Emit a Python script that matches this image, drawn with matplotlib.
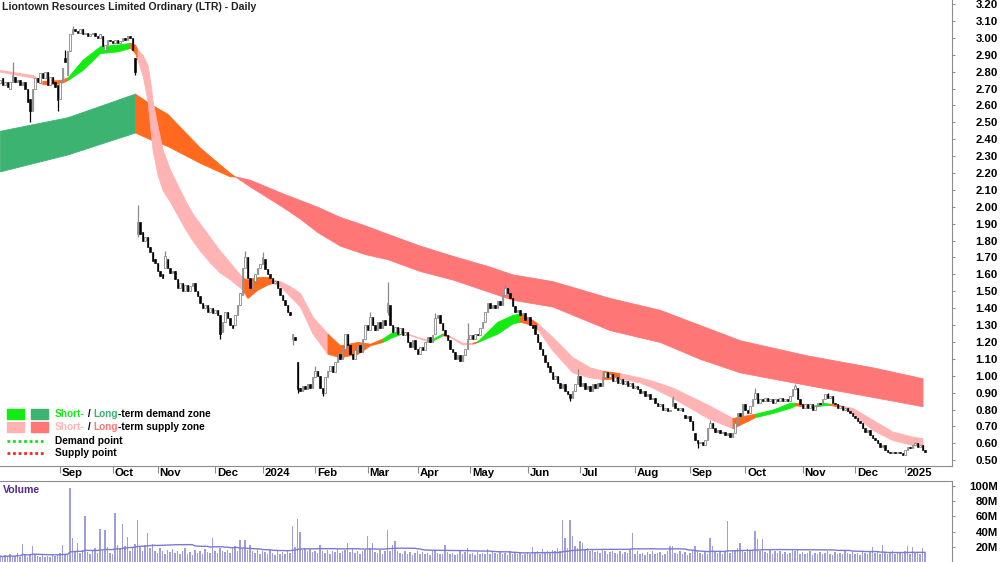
import numpy as np
import pandas as pd
import matplotlib
matplotlib.use("Agg")
import matplotlib.pyplot as plt
from matplotlib.patches import Rectangle
from matplotlib.lines import Line2D
from matplotlib.transforms import ScaledTranslation

plt.rcParams['font.family'] = ['Liberation Sans', 'DejaVu Sans']

# ---- daily candles (bar index 0 = late Jul 2023) ----
opens = [
    2.73, 2.76, 2.72, 2.74, 2.70, 2.74, 2.77, 2.74, 2.75, 2.72,
    2.74, 2.70, 2.64, 2.57, 2.70, 2.76, 2.73, 2.79, 2.76, 2.80,
    2.72, 2.77, 2.74, 2.72, 2.64, 2.74, 2.88, 2.78, 2.92, 3.02,
    3.05, 3.04, 3.03, 3.05, 3.02, 3.03, 3.01, 3.02, 3.03, 3.01,
    3.00, 3.01, 2.93, 2.96, 2.99, 2.98, 2.97, 2.99, 2.97, 2.98,
    3.00, 2.99, 3.01, 3.00, 2.88, 1.84, 1.91, 1.85, 1.80, 1.82,
    1.76, 1.73, 1.69, 1.67, 1.62, 1.60, 1.64, 1.69, 1.64, 1.61,
    1.62, 1.57, 1.52, 1.55, 1.50, 1.54, 1.50, 1.53, 1.55, 1.50,
    1.47, 1.43, 1.40, 1.42, 1.38, 1.40, 1.37, 1.39, 1.36, 1.26,
    1.32, 1.38, 1.34, 1.30, 1.30, 1.36, 1.42, 1.48, 1.64, 1.70,
    1.58, 1.52, 1.56, 1.60, 1.64, 1.66, 1.69, 1.63, 1.60, 1.58,
    1.55, 1.56, 1.52, 1.48, 1.45, 1.42, 1.38, 1.22, 1.23, 1.08,
    0.93, 0.91, 0.94, 0.92, 0.95, 0.93, 0.99, 1.03, 1.00, 0.93,
    0.90, 0.99, 1.03, 1.06, 1.02, 1.08, 1.13, 1.10, 1.16, 1.25,
    1.18, 1.13, 1.10, 1.15, 1.18, 1.14, 1.22, 1.30, 1.27, 1.35,
    1.30, 1.27, 1.32, 1.28, 1.33, 1.38, 1.42, 1.30, 1.26, 1.29,
    1.25, 1.28, 1.24, 1.26, 1.20, 1.17, 1.21, 1.16, 1.13, 1.17,
    1.15, 1.20, 1.23, 1.20, 1.25, 1.34, 1.36, 1.31, 1.27, 1.24,
    1.21, 1.16, 1.14, 1.10, 1.12, 1.09, 1.12, 1.16, 1.22, 1.24,
    1.22, 1.25, 1.24, 1.28, 1.32, 1.38, 1.43, 1.40, 1.42, 1.40,
    1.44, 1.42, 1.48, 1.52, 1.49, 1.46, 1.41, 1.38, 1.39, 1.36,
    1.37, 1.33, 1.35, 1.30, 1.30, 1.25, 1.20, 1.16, 1.12, 1.08,
    1.06, 1.02, 0.98, 1.00, 0.96, 0.93, 0.95, 0.91, 0.89, 0.87,
    0.91, 0.95, 1.00, 0.94, 0.96, 0.92, 0.94, 0.91, 0.95, 0.93,
    0.96, 0.94, 0.99, 1.02, 0.99, 1.01, 0.97, 0.99, 0.96, 0.98,
    0.95, 0.97, 0.94, 0.96, 0.93, 0.94, 0.92, 0.90, 0.91, 0.88,
    0.89, 0.86, 0.87, 0.84, 0.82, 0.83, 0.80, 0.81, 0.79, 0.82,
    0.84, 0.81, 0.80, 0.81, 0.77, 0.75, 0.76, 0.73, 0.66, 0.62,
    0.60, 0.61, 0.59, 0.62, 0.69, 0.72, 0.69, 0.67, 0.68, 0.66,
    0.67, 0.65, 0.66, 0.64, 0.66, 0.72, 0.78, 0.76, 0.83, 0.80,
    0.78, 0.82, 0.86, 0.90, 0.84, 0.86, 0.85, 0.87, 0.85, 0.86,
    0.84, 0.86, 0.85, 0.87, 0.85, 0.86, 0.85, 0.88, 0.92, 0.93,
    0.86, 0.83, 0.81, 0.83, 0.81, 0.83, 0.80, 0.82, 0.84, 0.83,
    0.86, 0.89, 0.87, 0.88, 0.84, 0.83, 0.81, 0.82, 0.80, 0.81,
    0.79, 0.78, 0.76, 0.75, 0.73, 0.72, 0.69, 0.67, 0.68, 0.65,
    0.63, 0.62, 0.60, 0.58, 0.59, 0.56, 0.55, 0.54, 0.55, 0.54,
    0.55, 0.54, 0.53, 0.56, 0.58, 0.57, 0.59, 0.60, 0.58, 0.59,
    0.56,
]
closes = [
    2.75, 2.72, 2.74, 2.71, 2.74, 2.78, 2.74, 2.75, 2.72, 2.74,
    2.70, 2.62, 2.57, 2.70, 2.76, 2.74, 2.79, 2.76, 2.80, 2.72,
    2.77, 2.73, 2.71, 2.63, 2.74, 2.82, 2.86, 2.92, 3.02, 3.05,
    3.04, 3.03, 3.05, 3.02, 3.03, 3.01, 3.02, 3.03, 3.01, 3.00,
    3.02, 2.95, 2.96, 2.99, 2.98, 2.97, 2.99, 2.97, 2.98, 3.00,
    2.99, 3.01, 3.00, 2.93, 2.80, 1.91, 1.84, 1.80, 1.82, 1.76,
    1.73, 1.68, 1.67, 1.62, 1.59, 1.58, 1.71, 1.64, 1.61, 1.62,
    1.57, 1.52, 1.55, 1.50, 1.54, 1.50, 1.53, 1.55, 1.50, 1.47,
    1.43, 1.40, 1.42, 1.38, 1.40, 1.37, 1.39, 1.36, 1.25, 1.32,
    1.38, 1.34, 1.30, 1.28, 1.36, 1.42, 1.49, 1.64, 1.70, 1.58,
    1.52, 1.56, 1.60, 1.64, 1.66, 1.70, 1.63, 1.60, 1.58, 1.55,
    1.56, 1.52, 1.48, 1.45, 1.42, 1.38, 1.36, 1.25, 1.21, 0.92,
    0.91, 0.94, 0.92, 0.95, 0.93, 0.99, 1.03, 1.00, 0.93, 0.90,
    0.99, 1.03, 1.06, 1.02, 1.08, 1.13, 1.10, 1.16, 1.25, 1.18,
    1.13, 1.10, 1.15, 1.18, 1.14, 1.22, 1.30, 1.27, 1.35, 1.30,
    1.27, 1.32, 1.28, 1.33, 1.30, 1.43, 1.30, 1.26, 1.29, 1.25,
    1.28, 1.24, 1.26, 1.20, 1.17, 1.21, 1.16, 1.13, 1.17, 1.15,
    1.20, 1.23, 1.20, 1.24, 1.34, 1.36, 1.31, 1.27, 1.24, 1.21,
    1.16, 1.14, 1.10, 1.12, 1.09, 1.12, 1.16, 1.22, 1.24, 1.22,
    1.25, 1.24, 1.28, 1.32, 1.38, 1.43, 1.40, 1.42, 1.40, 1.44,
    1.42, 1.48, 1.52, 1.49, 1.46, 1.41, 1.38, 1.39, 1.36, 1.37,
    1.33, 1.35, 1.30, 1.28, 1.25, 1.20, 1.16, 1.12, 1.08, 1.05,
    1.02, 0.98, 1.00, 0.96, 0.93, 0.95, 0.91, 0.89, 0.87, 0.91,
    0.95, 1.00, 0.94, 0.96, 0.92, 0.94, 0.91, 0.95, 0.93, 0.96,
    0.94, 0.99, 1.02, 0.99, 1.01, 0.97, 0.99, 0.96, 0.98, 0.95,
    0.97, 0.94, 0.96, 0.93, 0.94, 0.92, 0.90, 0.91, 0.88, 0.89,
    0.86, 0.87, 0.84, 0.82, 0.83, 0.80, 0.81, 0.79, 0.80, 0.87,
    0.81, 0.80, 0.81, 0.79, 0.75, 0.76, 0.73, 0.68, 0.62, 0.60,
    0.61, 0.59, 0.62, 0.69, 0.72, 0.69, 0.67, 0.68, 0.66, 0.67,
    0.65, 0.66, 0.64, 0.66, 0.72, 0.78, 0.76, 0.83, 0.80, 0.78,
    0.82, 0.86, 0.90, 0.84, 0.86, 0.85, 0.87, 0.85, 0.86, 0.84,
    0.86, 0.85, 0.87, 0.85, 0.86, 0.85, 0.88, 0.92, 0.94, 0.86,
    0.83, 0.81, 0.83, 0.81, 0.83, 0.80, 0.82, 0.84, 0.83, 0.86,
    0.89, 0.87, 0.88, 0.84, 0.83, 0.81, 0.82, 0.80, 0.81, 0.79,
    0.78, 0.76, 0.75, 0.73, 0.72, 0.69, 0.67, 0.68, 0.65, 0.63,
    0.62, 0.60, 0.58, 0.59, 0.56, 0.55, 0.54, 0.55, 0.54, 0.55,
    0.54, 0.53, 0.56, 0.58, 0.57, 0.59, 0.60, 0.58, 0.59, 0.56,
    0.55,
]
# notable wicks (bar index, price)
wick_hi_idx = [5, 26, 29, 55, 66, 98, 105, 126, 148, 155, 174, 187, 202, 231, 269, 284, 302, 318, 331, 366]
wick_hi_val = [2.86, 2.93, 3.07, 2.01, 1.74, 1.74, 1.73, 1.06, 1.38, 1.555, 1.37, 1.31, 1.54, 1.04, 0.88, 0.74, 0.93, 0.95, 0.90, 0.61]
wick_lo_idx = [12, 23, 54, 55, 88, 117, 119, 129, 155, 228, 279]
wick_lo_val = [2.50, 2.57, 2.78, 1.82, 1.22, 1.18, 0.90, 0.88, 1.36, 0.85, 0.57]

volumes_m = [
    8, 6, 9, 7, 10, 6, 8, 12, 7, 24, 9, 7, 11, 21, 10, 8, 7, 9, 6, 8,
    7, 9, 8, 10, 12, 22, 11, 9, 98, 31, 14, 25, 12, 16, 60, 13, 11, 15, 18, 12,
    43, 14, 42, 20, 12, 11, 64, 22, 18, 50, 21, 33, 15, 18, 24, 55, 20, 14, 22, 38,
    18, 24, 15, 12, 19, 14, 11, 16, 13, 17, 12, 15, 10, 14, 18, 11, 13, 9, 16, 12,
    14, 11, 17, 13, 12, 31, 15, 12, 18, 14, 13, 16, 12, 19, 21, 15, 29, 18, 29, 16,
    22, 14, 12, 17, 11, 15, 13, 10, 16, 12, 9, 14, 11, 13, 10, 15, 12, 48, 20, 57,
    40, 16, 19, 14, 17, 13, 15, 12, 23, 14, 12, 16, 11, 15, 13, 18, 12, 14, 16, 25,
    13, 17, 12, 15, 11, 14, 16, 34, 18, 25, 13, 12, 16, 11, 14, 42, 15, 23, 27, 14,
    12, 10, 14, 11, 13, 9, 12, 15, 10, 13, 11, 12, 9, 14, 16, 12, 10, 11, 23, 13,
    10, 12, 9, 11, 14, 10, 13, 18, 11, 12, 9, 13, 10, 12, 11, 17, 10, 14, 12, 11,
    13, 10, 12, 9, 14, 11, 13, 10, 12, 9, 11, 13, 10, 20, 12, 14, 11, 17, 13, 15,
    12, 16, 14, 18, 15, 55, 31, 19, 55, 34, 21, 18, 28, 25, 16, 19, 14, 17, 13, 15,
    12, 16, 14, 11, 13, 15, 12, 10, 14, 11, 13, 12, 17, 38, 11, 14, 10, 12, 9, 13,
    11, 14, 10, 12, 13, 9, 11, 15, 21, 21, 12, 10, 14, 11, 13, 9, 12, 16, 21, 14,
    12, 10, 13, 11, 31, 21, 14, 12, 15, 11, 13, 54, 12, 16, 14, 18, 25, 15, 13, 17,
    14, 16, 41, 30, 15, 30, 13, 12, 16, 11, 14, 12, 15, 10, 13, 11, 12, 16, 14, 17,
    11, 13, 10, 12, 14, 9, 12, 11, 13, 10, 12, 14, 11, 9, 13, 10, 12, 11, 14, 12,
    10, 13, 11, 12, 9, 14, 12, 11, 13, 20, 12, 14, 11, 23, 13, 10, 12, 14, 11, 13,
    12, 10, 14, 21, 11, 20, 13, 12, 11, 19, 12,
]

# ---- long-term zone (bar index, top, bottom) ----
long_x = [0, 27, 54, 60, 67, 80, 92, 94, 100, 113, 120, 127, 136, 146, 155, 168, 181, 195, 205, 221, 244, 264, 280, 296, 323, 349, 369]
long_top = [2.45, 2.53, 2.67, 2.61, 2.55, 2.35, 2.20, 2.18, 2.16, 2.08, 2.04, 2.00, 1.94, 1.89, 1.84, 1.77, 1.71, 1.65, 1.60, 1.56, 1.46, 1.39, 1.30, 1.21, 1.12, 1.05, 0.985]
long_bot = [2.21, 2.31, 2.44, 2.40, 2.36, 2.26, 2.18, 2.18, 2.12, 2.00, 1.93, 1.85, 1.77, 1.72, 1.69, 1.62, 1.57, 1.50, 1.45, 1.41, 1.27, 1.20, 1.10, 1.02, 0.945, 0.875, 0.82]
long_state = "ggooooorrrrrrrrrrrrrrrrrrr"

# ---- short-term zone ----
short_x = [0, 13, 17, 24, 27, 33, 40, 47, 52, 54, 55, 57, 59, 60, 61, 63, 65, 68, 71, 74,
           77, 80, 84, 88, 92, 97, 99, 103, 107, 109, 112, 116, 120, 125, 131, 136, 143, 148, 153, 157,
           161, 163, 168, 172, 177, 180, 185, 189, 191, 199, 205, 208, 213, 215, 221, 229, 236, 241, 248, 256,
           261, 269, 283, 293, 300, 302, 309, 316, 318, 325, 329, 332, 337, 341, 349, 357, 365, 369]
short_top = [2.81, 2.78, 2.745, 2.75, 2.765, 2.87, 2.95, 2.96, 2.97, 2.96, 2.93, 2.90, 2.84, 2.75, 2.63, 2.48, 2.34, 2.22, 2.13, 2.04,
             1.96, 1.90, 1.82, 1.74, 1.67, 1.58, 1.57, 1.585, 1.585, 1.57, 1.56, 1.53, 1.49, 1.35, 1.25, 1.18, 1.20, 1.19, 1.22, 1.26,
             1.265, 1.25, 1.225, 1.21, 1.25, 1.235, 1.195, 1.195, 1.205, 1.32, 1.36, 1.37, 1.33, 1.31, 1.23, 1.11, 1.05, 1.03, 1.015, 0.99,
             0.97, 0.93, 0.83, 0.75, 0.77, 0.775, 0.80, 0.84, 0.84, 0.82, 0.84, 0.835, 0.822, 0.81, 0.74, 0.67, 0.64, 0.63]
short_bot = [2.80, 2.765, 2.725, 2.73, 2.75, 2.81, 2.91, 2.92, 2.94, 2.91, 2.87, 2.78, 2.63, 2.48, 2.34, 2.19, 2.10, 2.03, 1.95, 1.87,
             1.80, 1.74, 1.67, 1.61, 1.57, 1.51, 1.46, 1.51, 1.54, 1.55, 1.53, 1.47, 1.41, 1.25, 1.13, 1.11, 1.13, 1.18, 1.20, 1.23,
             1.25, 1.245, 1.22, 1.20, 1.24, 1.23, 1.185, 1.19, 1.20, 1.25, 1.31, 1.32, 1.30, 1.275, 1.15, 1.02, 0.99, 0.98, 0.985, 0.96,
             0.93, 0.87, 0.75, 0.69, 0.74, 0.755, 0.78, 0.81, 0.825, 0.815, 0.825, 0.828, 0.812, 0.78, 0.68, 0.62, 0.59, 0.58]
short_state = ("ppooggggoo" "ppppppppppppppp" "oooo" "ppppp" "oooo" "gg" "o" "pp" "g" "o" "pp" "o"
               "ggg" "oo" "pppp" "o" "ppppp" "oo" "ggg" "o" "gg" "o" "ppppp")

month_pos = [24, 45, 63, 86, 105, 126, 147, 167, 188, 211, 232, 254, 276, 298, 321, 342, 362]
month_lbl = ['Sep', 'Oct', 'Nov', 'Dec', '2024', 'Feb', 'Mar', 'Apr', 'May', 'Jun', 'Jul',
             'Aug', 'Sep', 'Oct', 'Nov', 'Dec', '2025']

SHORT_COL = {'g': '#12ec12', 'o': '#ff6a1f', 'p': '#ffb3b3'}
LONG_COL = {'g': '#3cb371', 'o': '#ff6a1f', 'r': '#ff7676'}
W, H = 1000, 562
FS = 7.3      # legend / title text
AX_FS = 8.2   # axis labels


def fill_zone(ax, xs, tops, bots, state, cols):
    # group consecutive intervals with the same state into one polygon
    k = 0
    while k < len(state):
        j = k
        while j + 1 < len(state) and state[j + 1] == state[k]:
            j += 1
        sl = slice(k, j + 2)
        c = cols[state[k]]
        ax.fill_between(xs[sl], bots[sl], tops[sl], color=c, lw=0.6, ec=c, zorder=1)
        k = j + 1


fig = plt.figure(figsize=(10, 5.62), dpi=100)
ax = fig.add_axes([0, 1 - 466 / H, 952 / W, 466 / H])
axv = fig.add_axes([0, 0, 952 / W, (562 - 481) / H])

fill_zone(ax, long_x, long_top, long_bot, long_state, LONG_COL)
fill_zone(ax, short_x, short_top, short_bot, short_state, SHORT_COL)

# candles
o = np.array(opens)
c = np.array(closes)
idx = np.arange(len(c))
hi = np.maximum(o, c)
lo = np.minimum(o, c)
hi[wick_hi_idx] = wick_hi_val
lo[wick_lo_idx] = wick_lo_val
up = c >= o
ax.vlines(idx[up], lo[up], hi[up], color='#8a8a8a', lw=0.9, zorder=3)
ax.vlines(idx[~up], lo[~up], hi[~up], color='black', lw=0.9, zorder=3)
body_h = np.maximum(np.abs(c - o), 0.004)
ax.bar(idx[up], body_h[up], bottom=np.minimum(o, c)[up], width=0.65,
       color='white', edgecolor='#8a8a8a', lw=0.6, zorder=4)
ax.bar(idx[~up], body_h[~up], bottom=np.minimum(o, c)[~up], width=0.65,
       color='black', edgecolor='black', lw=0.4, zorder=4)

ax.set_ylim(0.466, 3.224)
for a in (ax, axv):
    a.set_xlim(0, 380.8)
    a.yaxis.tick_right()
    a.spines['left'].set_visible(False)
    a.spines['right'].set_color('#8c8c8c')
    a.tick_params(axis='y', length=2, color='#8c8c8c', pad=31)
ax.spines['top'].set_visible(False)
ax.spines['bottom'].set_color('#8c8c8c')

yt = np.round(np.arange(0.5, 3.201, 0.1), 2)
ax.set_yticks(yt)
ax.set_yticklabels([f'{v:.2f}' for v in yt], ha='right', fontweight='bold', fontsize=AX_FS)

ax.set_xticks(month_pos)
ax.set_xticklabels(month_lbl, ha='left', fontweight='bold', fontsize=AX_FS)
ax.tick_params(axis='x', length=5, color='#8c8c8c', pad=-3.5)
for lbl in ax.get_xticklabels():
    lbl.set_transform(lbl.get_transform() + ScaledTranslation(2 / 100, 0, fig.dpi_scale_trans))

# volume
vol = np.array(volumes_m) * 1e6
vol_ma = pd.Series(vol).rolling(50, min_periods=1).mean()
axv.bar(idx, vol, width=0.45, color='#9d9de0', zorder=2)
axv.plot(idx, vol_ma, color='#7a7ad0', lw=1, zorder=3)
axv.set_ylim(0, 106.6e6)
vt = [20e6, 40e6, 60e6, 80e6, 100e6]
axv.set_yticks(vt)
axv.set_yticklabels([f'{int(v / 1e6)}M' for v in vt], ha='right', fontweight='bold', fontsize=AX_FS)
axv.set_xticks([])
axv.spines['bottom'].set_visible(False)
axv.spines['top'].set_color('#8c8c8c')

# texts
fig.text(2 / W, 1 - 7 / H, 'Liontown Resources Limited Ordinary (LTR) - Daily',
         fontsize=7.6, fontweight='bold', color='#222222', va='center', ha='left')
fig.text(3 / W, 1 - 490 / H, 'Volume', fontsize=FS + 0.3, fontweight='bold',
         color='#55288a', va='center', ha='left')


def rich(x_px, y_px, pieces):
    r = fig.canvas.get_renderer()
    x = x_px
    for s, col in pieces:
        t = fig.text(x / W, 1 - y_px / H, s, color=col, fontsize=FS,
                     fontweight='bold', va='center', ha='left')
        x += t.get_window_extent(r).width


for (y, c1, c2) in [(414, SHORT_COL['g'], LONG_COL['g']), (427, SHORT_COL['p'], LONG_COL['r'])]:
    fig.add_artist(Rectangle((7 / W, 1 - (y + 5) / H), 17 / W, 10 / H, color=c1, transform=fig.transFigure))
    fig.add_artist(Rectangle((31 / W, 1 - (y + 5) / H), 17 / W, 10 / H, color=c2, transform=fig.transFigure))

rich(55, 414, [('Short-', SHORT_COL['g']), (' / ', 'black'), ('Long', LONG_COL['g']),
               ('-term demand zone', 'black')])
rich(55, 427, [('Short-', SHORT_COL['p']), (' / ', 'black'), ('Long', LONG_COL['r']),
               ('-term supply zone', 'black')])
for y, col, s in [(441, '#18e018', 'Demand point'), (453, '#ff2020', 'Supply point')]:
    fig.add_artist(Line2D([7 / W, 45 / W], [1 - y / H, 1 - y / H], color=col, lw=2,
                          ls=(0, (1, 1)), transform=fig.transFigure))
    fig.text(55 / W, 1 - y / H, s, fontsize=FS, fontweight='bold', color='black', va='center')

fig.savefig('out.png', dpi=100)
